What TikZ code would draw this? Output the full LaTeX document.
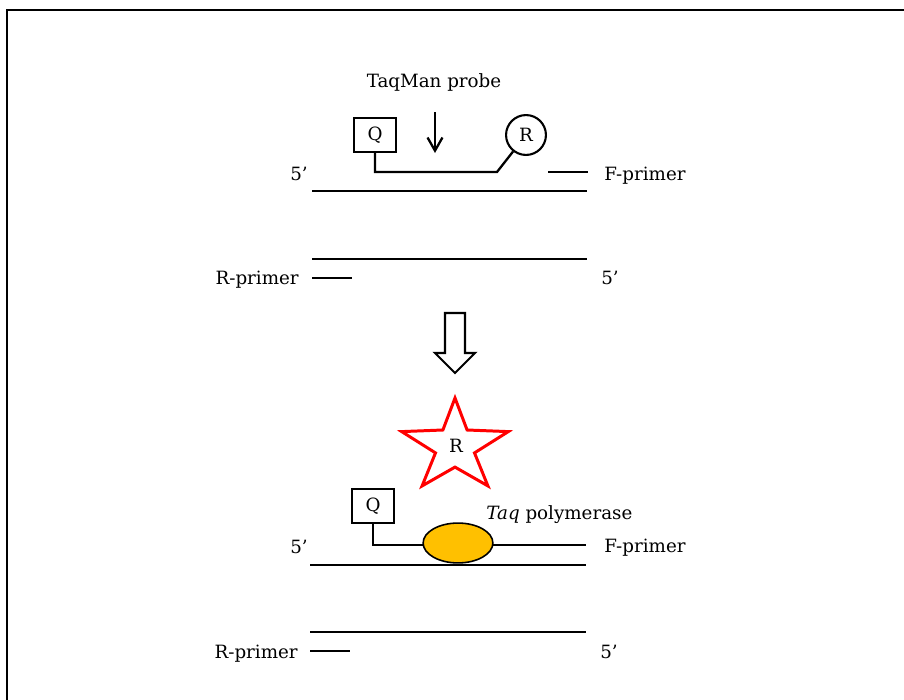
\documentclass[tikz,border=0pt]{standalone}
\usepackage{fontspec}
\setmainfont{DejaVu Serif}
\usepackage{tikz}
\usetikzlibrary{arrows.meta,shapes.geometric}
\definecolor{taqorange}{RGB}{255,192,0}
\tikzset{
  strand/.style={line width=1.7pt},
  probe/.style={line width=1.3pt},
  dyebox/.style={draw,line width=1.2pt,minimum width=23.8pt,minimum height=19.3pt,inner sep=0pt},
  dyering/.style={draw,circle,line width=1.2pt,minimum size=22.7pt,inner sep=0pt},
  lbl/.style={inner sep=0pt},
}

\begin{document}
\begin{tikzpicture}[x=0.02cm,y=-0.02cm,font=\fontsize{10.4}{12}\selectfont]
\useasboundingbox (0,0) rectangle (904,700);
\draw[line width=1.1pt] (7,700) -- (7,10) -- (904,10);

% intact probe on the template
\node[lbl,anchor=base] (probe) at (434,87) {TaqMan probe};
\coordinate (cut) at (435,112);
\draw[probe,-{Straight Barb[length=7.5pt,width=8.5pt]}] (cut) -- ++(0,41);
\node[dyebox] (q1) at (375,135) {Q};
\node[dyering] (r1) at (526,135) {R};
\coordinate (k1) at (497,172);
\draw[probe] (q1.south) |- (k1) -- (r1);
\draw[probe] (548,172) -- (588,172);
\draw[strand] (312,191) -- (587,191);
\draw[strand] (312,259) -- (587,259);
\draw[probe] (312,278) -- (352,278);
\node[lbl,anchor=base] (fiveA) at (299,180) {5’};
\node[lbl,anchor=base west] (fprimA) at (604,180) {F-primer};
\node[lbl,anchor=base east] (rprimA) at (299,284) {R-primer};
\node[lbl,anchor=base] (fiveB) at (610,284) {5’};

\draw[line width=1.2pt] (445,313) -- (465,313) -- (465,353) -- (475,353) -- (455,373)
  -- (435,353) -- (445,353) -- cycle;

% released reporter
\draw[red,line width=1.7pt] (455,398) -- (467.1,430) -- (508.3,431.6) -- (474.5,452.9)
  -- (487.9,485.9) -- (455,467.1) -- (422.1,485.9) -- (435.5,452.9) -- (401.7,431.6)
  -- (442.9,430) -- cycle;
\node (r2) at (456,446) {R};

% cleaved probe
\node[dyebox] (q2) at (373,506) {Q};
\coordinate (k2) at (586,545);
\draw[probe] (q2.south) |- (k2);
\draw[strand] (310,565) -- (586,565);
\node[draw,ellipse,fill=taqorange,line width=0.9pt,minimum width=39.7pt,minimum height=22.7pt] (taq) at (458,543) {};
\node[lbl,anchor=base west] (taqlbl) at (486,519) {\textit{Taq} polymerase};
\draw[strand] (310,632) -- (586,632);
\draw[probe] (310,651) -- (350,651);
\node[lbl,anchor=base] (fiveC) at (299,553) {5’};
\node[lbl,anchor=base west] (fprimB) at (604,552) {F-primer};
\node[lbl,anchor=base east] (rprimB) at (298,658) {R-primer};
\node[lbl,anchor=base] (fiveD) at (609,658) {5’};
\end{tikzpicture}
\end{document}
